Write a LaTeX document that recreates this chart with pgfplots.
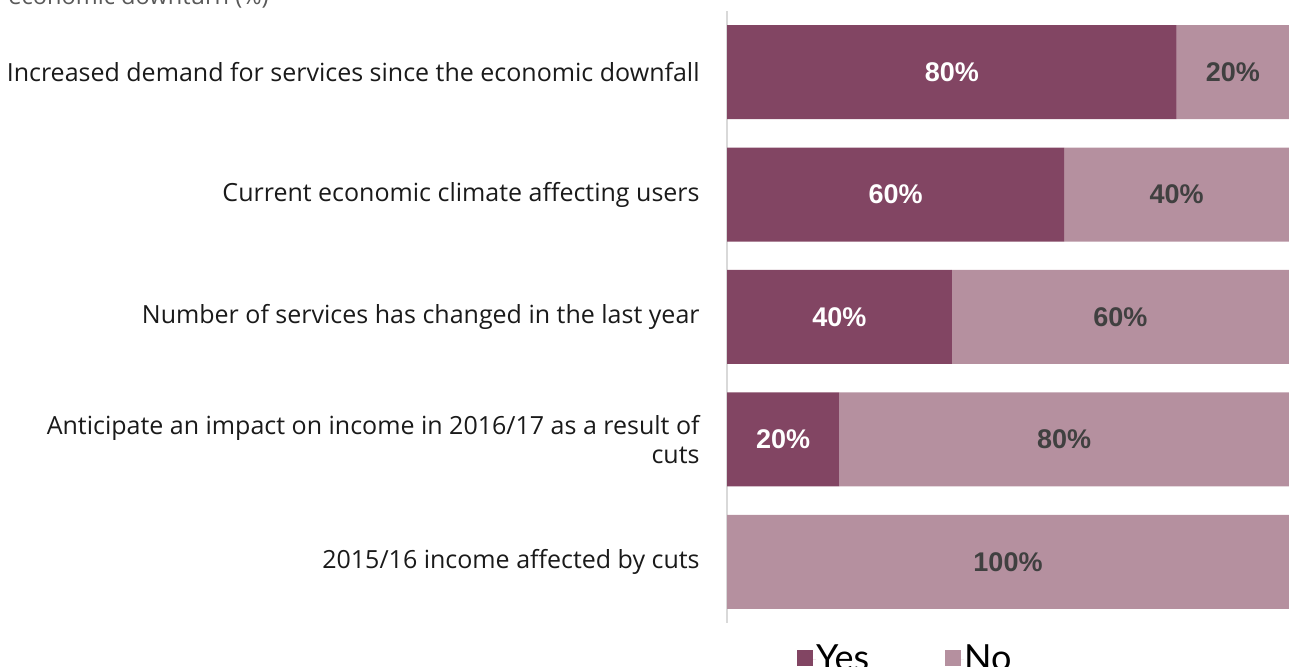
\documentclass[border=0pt]{standalone}
\usepackage{pgfplots}
\pgfplotsset{compat=1.18}
\usepackage{fontspec}
\setmainfont{Open Sans}
\newfontfamily\barfont{Liberation Sans}
\newfontfamily\legfont{Lato}
\definecolor{yescol}{HTML}{824563}
\definecolor{nocol}{HTML}{B5909F}
\definecolor{lblgray}{HTML}{404040}
\definecolor{axisgray}{HTML}{D9D9D9}
\definecolor{cattext}{HTML}{1A1A1A}
\definecolor{titlegray}{HTML}{595959}

\begin{document}
\begin{tikzpicture}
\path[use as bounding box] (0,0) rectangle (644.5pt,333.5pt);
\clip (0,0) rectangle (644.5pt,333.5pt);
\node[anchor=base west, inner sep=0pt, text=titlegray, font=\fontsize{11.8}{14}\selectfont] at (4pt,331pt) {economic downturn (\%)};

\begin{axis}[
  at={(363.5pt,22pt)}, anchor=south west,
  width=281pt, height=306pt, scale only axis,
  xbar stacked, bar width=47pt,
  xmin=0, xmax=100, ymin=-0.5, ymax=4.5,
  axis x line=none,
  axis y line*=left,
  y axis line style={draw=axisgray, line width=0.75pt, -},
  ytick={0,1,2,3,4},
  yticklabels={2015/16 income affected by cuts, {Anticipate an impact on income in 2016/17 as a result of\\cuts}, Number of services has changed in the last year, Current economic climate affecting users, Increased demand for services since the economic downfall},
  major tick length=0pt,
  yticklabel style={align=right, inner sep=0pt, xshift=-13.5pt, font=\fontsize{12.5}{14.5}\selectfont, text=cattext},
  legend style={at={(0.1246,-0.036)}, anchor=north west, draw=none, fill=none, inner sep=0pt, outer sep=0pt, legend columns=2, font=\legfont\fontsize{18}{18}\selectfont, nodes={inner sep=0pt}, /tikz/every even column/.append style={column sep=38pt}},
]
\addplot[draw=none, fill=yescol, legend image code/.code={\fill[yescol] (0pt,-3.5pt) rectangle (8pt,4.5pt); \path (0pt,0pt) -- (9.5pt,0pt);}] coordinates {(0,0) (20,1) (40,2) (60,3) (80,4)};
\addlegendentry{Yes}
\addplot[draw=none, fill=nocol, legend image code/.code={\fill[nocol] (0pt,-3.5pt) rectangle (8pt,4.5pt); \path (0pt,0pt) -- (9.5pt,0pt);}] coordinates {(100,0) (80,1) (60,2) (40,3) (20,4)};
\addlegendentry{No}
\end{axis}

\begin{axis}[
  at={(363.5pt,22pt)}, anchor=south west,
  width=281pt, height=306pt, scale only axis,
  xmin=0, xmax=100, ymin=-0.5, ymax=4.5,
  hide axis,
  nodes near coords, point meta=explicit symbolic,
  every node near coord/.append style={anchor=center, inner sep=0pt, font=\barfont\bfseries\fontsize{13.5}{15}\selectfont},
]
\addplot[draw=none, mark=none, every node near coord/.append style={text=white}] coordinates {(40,4) [80\%] (30,3) [60\%] (20,2) [40\%] (10,1) [20\%]};
\addplot[draw=none, mark=none, every node near coord/.append style={text=lblgray}] coordinates {(90,4) [20\%] (80,3) [40\%] (70,2) [60\%] (60,1) [80\%] (50,0) [100\%]};
\end{axis}
\end{tikzpicture}
\end{document}
